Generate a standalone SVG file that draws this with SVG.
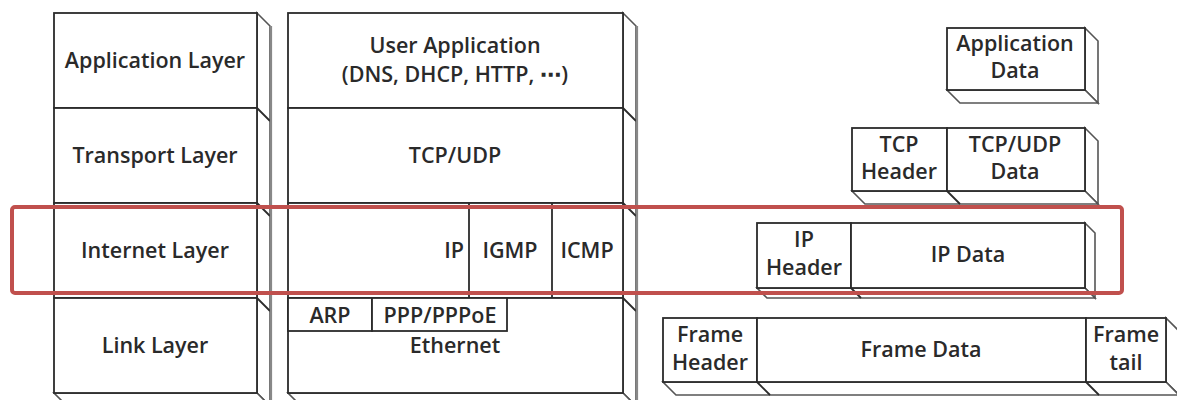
<svg xmlns="http://www.w3.org/2000/svg" width="1177" height="400" viewBox="0 0 1177 400">
<style>
  .f{fill:#fff;stroke:#2b2b2b;stroke-width:1.8}
  .ln{fill:none;stroke:#2b2b2b;stroke-width:1.8}
  .sd{fill:#fff;stroke:#555;stroke-width:1.6}
  .sv{fill:none;stroke:#888;stroke-width:2.2}
  text{font-family:"Open Sans","DejaVu Sans",sans-serif;font-weight:600;font-size:21.5px;fill:#2a2a2a;text-anchor:middle}
  .hl{fill:none;stroke:#c0504d;stroke-width:4}
</style>
<rect width="1177" height="400" fill="#fff"/>

<g id="layers-column">
  <polygon class="sd" points="257,13 270,26 270,406 257,393"/>
  <polygon class="sd" points="54,393 257,393 270,406 67,406"/>
  <line class="ln" x1="257" y1="108" x2="270" y2="121"/>
  <line class="ln" x1="257" y1="203" x2="270" y2="216"/>
  <line class="ln" x1="257" y1="298" x2="270" y2="311"/>
  <line class="sv" x1="271" y1="26" x2="271" y2="400"/>
  <rect class="f" x="54" y="13" width="203" height="95"/>
  <rect class="f" x="54" y="108" width="203" height="95"/>
  <rect class="f" x="54" y="203" width="203" height="95"/>
  <rect class="f" x="54" y="298" width="203" height="95"/>
  <text x="155" y="68">Application Layer</text>
  <text x="155" y="163">Transport Layer</text>
  <text x="155" y="258">Internet Layer</text>
  <text x="155" y="353">Link Layer</text>
</g>

<g id="protocols-column">
  <polygon class="sd" points="623,13 636,26 636,406 623,393"/>
  <polygon class="sd" points="288,393 623,393 636,406 301,406"/>
  <line class="ln" x1="623" y1="108" x2="636" y2="121"/>
  <line class="ln" x1="623" y1="203" x2="636" y2="216"/>
  <line class="ln" x1="623" y1="298" x2="636" y2="311"/>
  <line class="sv" x1="637" y1="26" x2="637" y2="400"/>
  <rect class="f" x="288" y="13" width="335" height="95"/>
  <rect class="f" x="288" y="108" width="335" height="95"/>
  <rect class="f" x="288" y="203" width="335" height="95"/>
  <rect class="f" x="288" y="298" width="335" height="95"/>
  <line class="ln" x1="469" y1="203" x2="469" y2="298"/>
  <line class="ln" x1="552" y1="203" x2="552" y2="298"/>
  <rect class="f" x="288" y="298" width="84" height="33"/>
  <rect class="f" x="372" y="298" width="135" height="33"/>
  <text x="455" y="53">User Application</text>
  <text x="455" y="82">(DNS, DHCP, HTTP, ⋯)</text>
  <text x="455" y="163">TCP/UDP</text>
  <text x="464" y="258" style="text-anchor:end">IP</text>
  <text x="510" y="258">IGMP</text>
  <text x="587" y="258">ICMP</text>
  <text x="330" y="323">ARP</text>
  <text x="440" y="323">PPP/PPPoE</text>
  <text x="455" y="353">Ethernet</text>
</g>

<g id="application-data">
  <polygon class="sd" points="1085,28 1098,41 1098,103 1085,90"/>
  <polygon class="sd" points="947,90 1085,90 1098,103 960,103"/>
  <rect class="f" x="947" y="28" width="138" height="62"/>
  <text x="1015" y="51">Application</text>
  <text x="1015" y="78">Data</text>
</g>

<g id="tcp-segment">
  <polygon class="sd" points="1085,128 1098,141 1098,204 1085,191"/>
  <polygon class="sd" points="852,191 1085,191 1098,204 865,204"/>
  <line class="ln" x1="947" y1="191" x2="960" y2="204"/>
  <rect class="f" x="852" y="128" width="95" height="63"/>
  <rect class="f" x="947" y="128" width="138" height="63"/>
  <text x="899" y="152">TCP</text>
  <text x="899" y="179">Header</text>
  <text x="1015" y="152">TCP/UDP</text>
  <text x="1015" y="179">Data</text>
</g>

<g id="ip-packet">
  <polygon class="sd" points="1085,223 1095,233 1095,298 1085,288"/>
  <polygon class="sd" points="757,288 1085,288 1095,298 767,298"/>
  <line class="ln" x1="851" y1="288" x2="861" y2="298"/>
  <rect class="f" x="757" y="223" width="94" height="65"/>
  <rect class="f" x="851" y="223" width="234" height="65"/>
  <text x="804" y="247">IP</text>
  <text x="804" y="275">Header</text>
  <text x="968" y="262">IP Data</text>
</g>

<g id="frame">
  <polygon class="sd" points="1166,318 1179,331 1179,395 1166,382"/>
  <polygon class="sd" points="663,382 1166,382 1179,395 676,395"/>
  <line class="ln" x1="757" y1="382" x2="770" y2="395"/>
  <line class="ln" x1="1086" y1="382" x2="1099" y2="395"/>
  <rect class="f" x="663" y="318" width="94" height="64"/>
  <rect class="f" x="757" y="318" width="329" height="64"/>
  <rect class="f" x="1086" y="318" width="80" height="64"/>
  <text x="710" y="342">Frame</text>
  <text x="710" y="370">Header</text>
  <text x="921" y="357">Frame Data</text>
  <text x="1126" y="342">Frame</text>
  <text x="1126" y="370">tail</text>
</g>

<g id="connectors"></g>

<g id="internet-highlight">
  <rect class="hl" x="12" y="207" width="1110" height="86" rx="3"/>
</g>
</svg>
